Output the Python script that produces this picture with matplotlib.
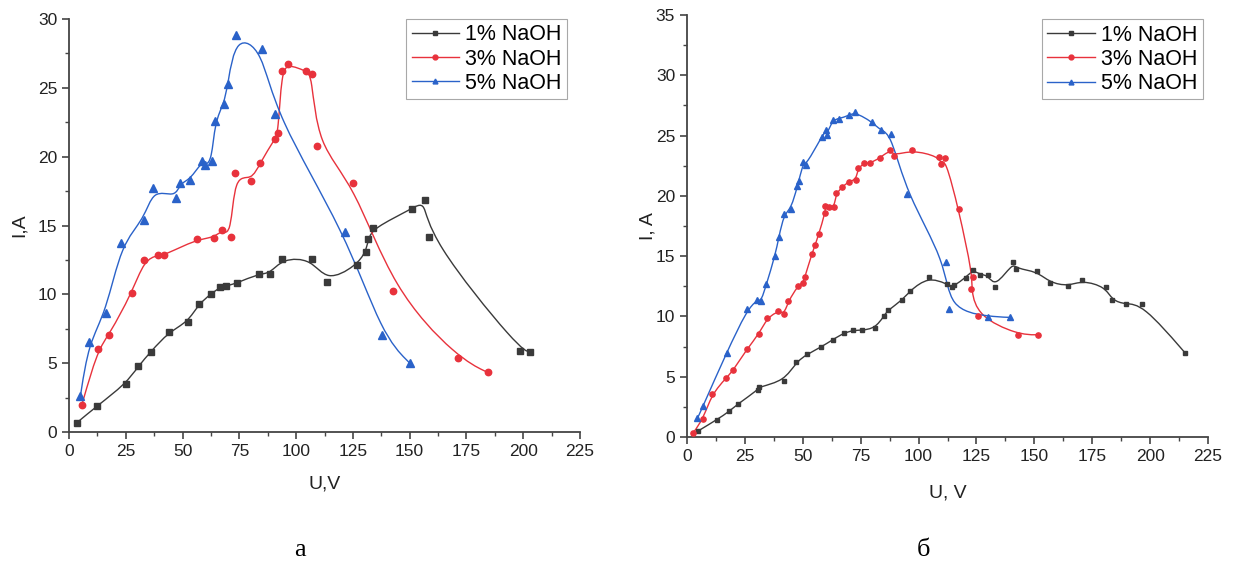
import numpy as np
import matplotlib
matplotlib.use("Agg")
from matplotlib import pyplot as plt
from matplotlib.path import Path
from matplotlib.patches import PathPatch
from matplotlib.lines import Line2D
from matplotlib.ticker import MultipleLocator

plt.rcParams['font.family'] = ['Liberation Sans', 'DejaVu Sans']

# ---- panel a ----
a_u1 = [3.5, 12.5, 24.9, 30.5, 36, 43.9, 52.4, 57.1, 62.7, 66.4, 69, 73.8, 83.6, 88.6,
        93.9, 106.8, 113.5, 126.6, 130.7, 131.8, 133.8, 151, 156.9, 158.3, 198.7, 203.2]
a_i1 = [0.68, 1.91, 3.49, 4.77, 5.83, 7.26, 7.99, 9.3, 10.05, 10.5, 10.6, 10.8, 11.5, 11.5,
        12.6, 12.6, 10.87, 12.1, 13.1, 14.0, 14.8, 16.2, 16.86, 14.15, 5.9, 5.83]

a_u3 = [5.6, 12.7, 17.6, 27.6, 33.2, 39.4, 41.9, 56.2, 64, 67.2, 71.3, 72.9, 80.3, 84.2,
        90.6, 92.1, 93.6, 96.5, 104.4, 106.9, 109.4, 125.2, 142.8, 171.2, 184.3]
a_i3 = [1.94, 6.0, 7.05, 10.07, 12.53, 12.84, 12.84, 14.0, 14.12, 14.68, 14.2, 18.8, 18.22, 19.57,
        21.27, 21.7, 26.19, 26.74, 26.2, 25.97, 20.78, 18.12, 10.27, 5.38, 4.33]

a_u5 = [5.05, 8.7, 16.2, 23.1, 33.1, 37.0, 46.9, 48.9, 53.2, 58.6, 60.1, 62.8, 64.3, 68.1,
        70.0, 73.4, 85.1, 90.6, 121.7, 137.9, 150.0]
a_i5 = [2.64, 6.51, 8.62, 13.76, 15.4, 17.7, 17.0, 18.1, 18.3, 19.67, 19.4, 19.7, 22.6, 23.8,
        25.27, 28.85, 27.83, 23.1, 14.5, 7.02, 5.01]

# ---- panel б ----
b_u1 = [4.8, 12.9, 18.3, 22, 30.8, 31, 42, 47.2, 51.8, 57.9, 63, 67.8, 71.9, 75.4, 81.2, 85,
        86.6, 93, 96.2, 104.3, 112.2, 114.4, 115.5, 120.4, 123.5, 126.7, 130, 133.1, 140.8,
        142.1, 151.2, 156.7, 164.7, 170.7, 180.8, 183.5, 189.4, 196.6, 215]
b_i1 = [0.5, 1.44, 2.13, 2.75, 3.93, 4.16, 4.64, 6.23, 6.85, 7.46, 8.08, 8.63, 8.85, 8.85, 9.01, 10.02,
        10.5, 11.35, 12.12, 13.3, 12.68, 12.47, 12.58, 13.22, 13.88, 13.45, 13.43, 12.4, 14.48,
        13.96, 13.74, 12.8, 12.5, 13.0, 12.45, 11.33, 11.0, 11.06, 7.0]

b_u3 = [2.5, 7.0, 10.8, 17.0, 20.0, 26.0, 31.2, 34.5, 39.3, 42.0, 43.7, 47.9, 50.1, 50.9, 53.9,
        55.3, 56.9, 59.6, 59.8, 61.5, 63.6, 64.4, 67.0, 69.8, 73.1, 73.8, 76.5, 79.0, 83.3, 87.6,
        89.4, 97.3, 108.8, 109.5, 111.5, 117.3, 123.5, 122.7, 125.5, 142.9, 151.4]
b_i3 = [0.3, 1.5, 3.6, 4.9, 5.54, 7.33, 8.58, 9.83, 10.48, 10.17, 11.25, 12.54, 12.8, 13.28, 15.16,
        15.9, 16.84, 18.56, 19.17, 19.06, 19.06, 20.22, 20.72, 21.19, 21.33, 22.3, 22.71, 22.71, 23.13, 23.82,
        23.32, 23.82, 23.25, 22.65, 23.15, 18.88, 13.29, 12.24, 10.0, 8.48, 8.48]

b_u5 = [4.5, 7.0, 17.1, 26.0, 30.3, 32.1, 34.3, 38.0, 39.7, 41.9, 45.0, 47.7, 48.3, 50.3, 51.4,
        58.1, 60.0, 60.4, 62.9, 65.7, 70.0, 72.6, 80.0, 83.6, 88.1, 94.8, 111.8, 113.0, 130.2, 139.5]
b_i5 = [1.54, 2.6, 7.0, 10.58, 11.36, 11.27, 12.69, 15.01, 16.62, 18.48, 18.95, 20.83, 21.27, 22.77, 22.55,
        24.88, 25.43, 25.07, 26.32, 26.4, 26.68, 26.95, 26.12, 25.43, 25.15, 20.14, 14.52, 10.59, 9.99, 9.92]

labels = ['1% NaOH', '3% NaOH', '5% NaOH']
colors = ['#3a3a3a', '#e8323c', '#2a62c9']
markers = ['s', 'o', '^']


def bspline_path(x, y):
    # cubic B-spline through the points as control polygon, drawn as bezier pieces
    P = np.column_stack([x, y]).astype(float)
    P = np.vstack([P[0], P[0], P, P[-1], P[-1]])
    verts = [P[0]]
    codes = [Path.MOVETO]
    for k in range(len(P) - 3):
        p0, p1, p2, p3 = P[k:k + 4]
        verts += [(2 * p1 + p2) / 3, (p1 + 2 * p2) / 3, (p1 + 4 * p2 + p3) / 6]
        codes += [Path.CURVE4] * 3
    return Path(verts, codes)


def draw_panel(ax, series, ymax, xlab, ylab, xlab_y, ylab_x, leg_anchor, mscale):
    for (u, i), c, m in zip(series, colors, markers):
        ax.add_patch(PathPatch(bspline_path(u, i), fill=False, edgecolor=c, lw=1.0, zorder=2))
        ms = {'s': 4.2, 'o': 4.6, '^': 5.2}[m] * mscale
        ax.plot(u, i, ls='none', marker=m, ms=ms, color=c, mec=c, zorder=3)
    ax.set_xlim(0, 225)
    ax.set_ylim(0, ymax)
    ax.xaxis.set_major_locator(MultipleLocator(25))
    ax.xaxis.set_minor_locator(MultipleLocator(12.5))
    ax.yaxis.set_major_locator(MultipleLocator(5))
    ax.yaxis.set_minor_locator(MultipleLocator(2.5))
    for s in ['top', 'right']:
        ax.spines[s].set_visible(False)
    for s in ['left', 'bottom']:
        ax.spines[s].set_color('#444444')
        ax.spines[s].set_linewidth(1.3)
    ax.tick_params(which='major', direction='out', length=5, width=1.2, color='#444444',
                   labelsize=12.5, labelcolor='#222222')
    ax.tick_params(which='minor', direction='out', length=3, width=1.0, color='#444444')
    ax.set_xlabel(xlab, fontsize=14, color='#222222')
    ax.set_ylabel(ylab, fontsize=14, color='#222222')
    ax.xaxis.set_label_coords(0.5, xlab_y)
    ax.yaxis.set_label_coords(ylab_x, 0.5)
    handles = [Line2D([], [], color=c, lw=1.0, marker=m, ms=3.5, mec=c)
               for c, m in zip(colors, markers)]
    leg = ax.legend(handles, labels, loc='upper right', bbox_to_anchor=leg_anchor,
                    fontsize=15.5, handlelength=2.2, handletextpad=0.3, labelspacing=0.15,
                    borderpad=0.25, borderaxespad=0, fancybox=False, framealpha=1)
    leg.get_frame().set_edgecolor('#a8a8a8')
    leg.get_frame().set_linewidth(0.8)


fig = plt.figure(figsize=(12.38, 5.64), dpi=100)
axA = fig.add_axes([69 / 1238, 1 - 432 / 564, 511 / 1238, 413 / 564])
axB = fig.add_axes([687 / 1238, 1 - 437 / 564, 521 / 1238, 422 / 564])

draw_panel(axA, [(a_u1, a_i1), (a_u3, a_i3), (a_u5, a_i5)], 30, 'U,V', 'I,A', -0.105, -0.08,
           (0.975, 1.0), 1.0)
draw_panel(axB, [(b_u1, b_i1), (b_u3, b_i3), (b_u5, b_i5)], 35, 'U, V', 'I, A', -0.112, -0.058,
           (0.99, 0.99), 0.82)

fig.text(300 / 1238, 1 - 550 / 564, 'а', fontsize=19, family='Liberation Serif',
         ha='center', va='center')
fig.text(924 / 1238, 1 - 550 / 564, 'б', fontsize=19, family='Liberation Serif',
         ha='center', va='center')

fig.savefig('out.png', dpi=100)
